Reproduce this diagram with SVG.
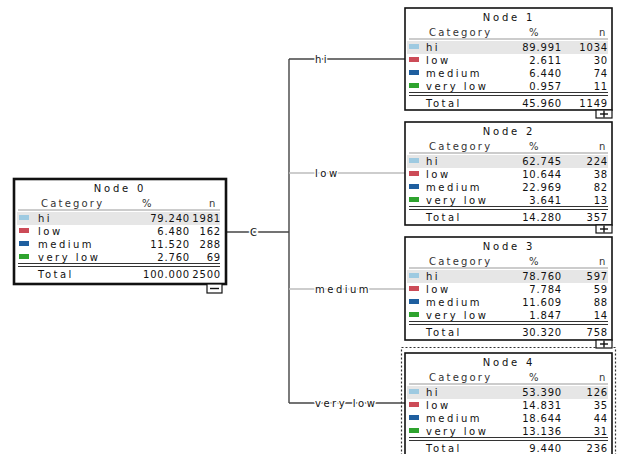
<svg xmlns="http://www.w3.org/2000/svg" width="618" height="454" viewBox="0 0 618 454">
  <style>
    text { font-family: "DejaVu Sans", "Liberation Sans", sans-serif; font-size: 10px; fill: #111; }
    .lbl { letter-spacing: 2.5px; }
    .num { letter-spacing: 0.8px; text-anchor: end; }
    .ttl { letter-spacing: 2.8px; text-anchor: middle; }
    .hdr { letter-spacing: 2.2px; fill: #333; }
    .box { fill: #fff; stroke: #111; stroke-width: 1.6; }
    .box0 { fill: #fff; stroke: #111; stroke-width: 2.6; }
    .band { fill: #e6e6e6; }
    .rule { stroke: #999; stroke-width: 1; }
    .drule { stroke: #333; stroke-width: 1; }
    .hi { fill: #9ecae1; }
    .low { fill: #cc4b57; }
    .med { fill: #1f5f9f; }
    .vlow { fill: #2ea32e; }
    .btn { fill: #fff; stroke: #111; stroke-width: 1.2; }
    .btnmark { stroke: #111; stroke-width: 1.4; }
    .edge { fill: none; stroke: #444; stroke-width: 1.4; }
    .edge-lt { fill: none; stroke: #bdbdbd; stroke-width: 1.4; }
    .elbl { letter-spacing: 2.5px; stroke: #fff; stroke-width: 3px; paint-order: stroke; }
    .sel { fill: none; stroke: #333; stroke-width: 1.2; stroke-dasharray: 2 2; }
  </style>

  <!-- tree connectors -->
  <g id="connectors">
    <line class="edge" x1="227" y1="232" x2="289" y2="232"/>
    <text class="elbl" x="250" y="236">C</text>
    <line class="edge" x1="289" y1="59" x2="289" y2="403"/>
    <line class="edge" x1="289" y1="59" x2="405" y2="59"/>
    <line class="edge-lt" x1="289" y1="173" x2="405" y2="173"/>
    <line class="edge-lt" x1="289" y1="289" x2="405" y2="289"/>
    <line class="edge" x1="289" y1="403" x2="405" y2="403"/>
    <text class="elbl" x="315" y="63">hi</text>
    <text class="elbl" x="315" y="177">low</text>
    <text class="elbl" x="315" y="293">medium</text>
    <text class="elbl" x="315" y="407">very low</text>
  </g>

  <!-- root node -->
  <g id="node0" transform="translate(14,179)">
    <rect class="box0" x="0" y="0" width="212" height="105"/>
    <text class="ttl" x="106" y="13">Node 0</text>
    <text class="hdr" x="27" y="28">Category</text>
    <text class="hdr" x="128" y="28">%</text>
    <text class="hdr" x="195" y="28">n</text>
    <line class="rule" x1="4" y1="31" x2="206" y2="31"/>
    <rect class="band" x="3" y="33" width="203" height="13"/>
    <rect class="hi" x="5" y="36" width="10" height="5"/>
    <rect class="low" x="5" y="49" width="10" height="5"/>
    <rect class="med" x="5" y="62" width="10" height="5"/>
    <rect class="vlow" x="5" y="75" width="10" height="5"/>
    <text class="lbl" x="24" y="43">hi</text>
    <text class="lbl" x="24" y="56">low</text>
    <text class="lbl" x="24" y="69">medium</text>
    <text class="lbl" x="24" y="82">very low</text>
    <text class="num" x="176" y="43">79.240</text>
    <text class="num" x="207" y="43">1981</text>
    <text class="num" x="176" y="56">6.480</text>
    <text class="num" x="207" y="56">162</text>
    <text class="num" x="176" y="69">11.520</text>
    <text class="num" x="207" y="69">288</text>
    <text class="num" x="176" y="82">2.760</text>
    <text class="num" x="207" y="82">69</text>
    <line class="drule" x1="4" y1="84.5" x2="206" y2="84.5"/>
    <line class="drule" x1="4" y1="87.5" x2="206" y2="87.5"/>
    <text class="lbl" x="24" y="99">Total</text>
    <text class="num" x="176" y="99">100.000</text>
    <text class="num" x="207" y="99">2500</text>
    <rect class="btn" x="193" y="105" width="15" height="9"/>
    <line class="btnmark" x1="196" y1="109.5" x2="205" y2="109.5"/>
  </g>

  <!-- child node: hi -->
  <g id="node1" transform="translate(405,8)">
    <rect class="box" x="0" y="0" width="207" height="102"/>
    <text class="ttl" x="104" y="13">Node 1</text>
    <text class="hdr" x="24" y="28">Category</text>
    <text class="hdr" x="124" y="28">%</text>
    <text class="hdr" x="194" y="28">n</text>
    <line class="rule" x1="4" y1="31" x2="203" y2="31"/>
    <rect class="band" x="2" y="33" width="201" height="13"/>
    <rect class="hi" x="4" y="36" width="10" height="5"/>
    <rect class="low" x="4" y="49" width="10" height="5"/>
    <rect class="med" x="4" y="62" width="10" height="5"/>
    <rect class="vlow" x="4" y="75" width="10" height="5"/>
    <text class="lbl" x="21" y="43">hi</text>
    <text class="lbl" x="21" y="56">low</text>
    <text class="lbl" x="21" y="69">medium</text>
    <text class="lbl" x="21" y="82">very low</text>
    <text class="num" x="157" y="43">89.991</text>
    <text class="num" x="203" y="43">1034</text>
    <text class="num" x="157" y="56">2.611</text>
    <text class="num" x="203" y="56">30</text>
    <text class="num" x="157" y="69">6.440</text>
    <text class="num" x="203" y="69">74</text>
    <text class="num" x="157" y="82">0.957</text>
    <text class="num" x="203" y="82">11</text>
    <line class="drule" x1="4" y1="84.5" x2="203" y2="84.5"/>
    <line class="drule" x1="4" y1="87.5" x2="203" y2="87.5"/>
    <text class="lbl" x="21" y="99">Total</text>
    <text class="num" x="157" y="99">45.960</text>
    <text class="num" x="203" y="99">1149</text>
    <rect class="btn" x="191" y="102" width="16" height="8"/>
    <line class="btnmark" x1="195" y1="106" x2="203" y2="106"/>
    <line class="btnmark" x1="199" y1="102.5" x2="199" y2="109.5"/>
  </g>

  <!-- child node: low -->
  <g id="node2" transform="translate(405,122)">
    <rect class="box" x="0" y="0" width="207" height="103"/>
    <text class="ttl" x="104" y="13">Node 2</text>
    <text class="hdr" x="24" y="28">Category</text>
    <text class="hdr" x="124" y="28">%</text>
    <text class="hdr" x="194" y="28">n</text>
    <line class="rule" x1="4" y1="31" x2="203" y2="31"/>
    <rect class="band" x="2" y="33" width="201" height="13"/>
    <rect class="hi" x="4" y="36" width="10" height="5"/>
    <rect class="low" x="4" y="49" width="10" height="5"/>
    <rect class="med" x="4" y="62" width="10" height="5"/>
    <rect class="vlow" x="4" y="75" width="10" height="5"/>
    <text class="lbl" x="21" y="43">hi</text>
    <text class="lbl" x="21" y="56">low</text>
    <text class="lbl" x="21" y="69">medium</text>
    <text class="lbl" x="21" y="82">very low</text>
    <text class="num" x="157" y="43">62.745</text>
    <text class="num" x="203" y="43">224</text>
    <text class="num" x="157" y="56">10.644</text>
    <text class="num" x="203" y="56">38</text>
    <text class="num" x="157" y="69">22.969</text>
    <text class="num" x="203" y="69">82</text>
    <text class="num" x="157" y="82">3.641</text>
    <text class="num" x="203" y="82">13</text>
    <line class="drule" x1="4" y1="84.5" x2="203" y2="84.5"/>
    <line class="drule" x1="4" y1="87.5" x2="203" y2="87.5"/>
    <text class="lbl" x="21" y="99">Total</text>
    <text class="num" x="157" y="99">14.280</text>
    <text class="num" x="203" y="99">357</text>
    <rect class="btn" x="191" y="103" width="16" height="8"/>
    <line class="btnmark" x1="195" y1="107" x2="203" y2="107"/>
    <line class="btnmark" x1="199" y1="103.5" x2="199" y2="110.5"/>
  </g>

  <!-- child node: medium -->
  <g id="node3" transform="translate(405,237)">
    <rect class="box" x="0" y="0" width="207" height="103"/>
    <text class="ttl" x="104" y="13">Node 3</text>
    <text class="hdr" x="24" y="28">Category</text>
    <text class="hdr" x="124" y="28">%</text>
    <text class="hdr" x="194" y="28">n</text>
    <line class="rule" x1="4" y1="31" x2="203" y2="31"/>
    <rect class="band" x="2" y="33" width="201" height="13"/>
    <rect class="hi" x="4" y="36" width="10" height="5"/>
    <rect class="low" x="4" y="49" width="10" height="5"/>
    <rect class="med" x="4" y="62" width="10" height="5"/>
    <rect class="vlow" x="4" y="75" width="10" height="5"/>
    <text class="lbl" x="21" y="43">hi</text>
    <text class="lbl" x="21" y="56">low</text>
    <text class="lbl" x="21" y="69">medium</text>
    <text class="lbl" x="21" y="82">very low</text>
    <text class="num" x="157" y="43">78.760</text>
    <text class="num" x="203" y="43">597</text>
    <text class="num" x="157" y="56">7.784</text>
    <text class="num" x="203" y="56">59</text>
    <text class="num" x="157" y="69">11.609</text>
    <text class="num" x="203" y="69">88</text>
    <text class="num" x="157" y="82">1.847</text>
    <text class="num" x="203" y="82">14</text>
    <line class="drule" x1="4" y1="84.5" x2="203" y2="84.5"/>
    <line class="drule" x1="4" y1="87.5" x2="203" y2="87.5"/>
    <text class="lbl" x="21" y="99">Total</text>
    <text class="num" x="157" y="99">30.320</text>
    <text class="num" x="203" y="99">758</text>
  </g>

  <!-- child node: very low (selected) -->
  <g id="node4" transform="translate(405,353)">
    <rect class="sel" x="-3.5" y="-5.5" width="214" height="120"/>
    <rect class="box" x="0" y="0" width="207" height="103"/>
    <text class="ttl" x="104" y="13">Node 4</text>
    <text class="hdr" x="24" y="28">Category</text>
    <text class="hdr" x="124" y="28">%</text>
    <text class="hdr" x="194" y="28">n</text>
    <line class="rule" x1="4" y1="31" x2="203" y2="31"/>
    <rect class="band" x="2" y="33" width="201" height="13"/>
    <rect class="hi" x="4" y="36" width="10" height="5"/>
    <rect class="low" x="4" y="49" width="10" height="5"/>
    <rect class="med" x="4" y="62" width="10" height="5"/>
    <rect class="vlow" x="4" y="75" width="10" height="5"/>
    <text class="lbl" x="21" y="43">hi</text>
    <text class="lbl" x="21" y="56">low</text>
    <text class="lbl" x="21" y="69">medium</text>
    <text class="lbl" x="21" y="82">very low</text>
    <text class="num" x="157" y="43">53.390</text>
    <text class="num" x="203" y="43">126</text>
    <text class="num" x="157" y="56">14.831</text>
    <text class="num" x="203" y="56">35</text>
    <text class="num" x="157" y="69">18.644</text>
    <text class="num" x="203" y="69">44</text>
    <text class="num" x="157" y="82">13.136</text>
    <text class="num" x="203" y="82">31</text>
    <line class="drule" x1="4" y1="84.5" x2="203" y2="84.5"/>
    <line class="drule" x1="4" y1="87.5" x2="203" y2="87.5"/>
    <text class="lbl" x="21" y="99">Total</text>
    <text class="num" x="157" y="99">9.440</text>
    <text class="num" x="203" y="99">236</text>
  </g>

  <!-- expand button of node 3 drawn over the selection frame -->
  <g id="node3-toggle">
    <rect class="btn" x="596" y="340" width="16" height="8"/>
    <line class="btnmark" x1="600" y1="344" x2="608" y2="344"/>
    <line class="btnmark" x1="604" y1="340.5" x2="604" y2="347.5"/>
  </g>
</svg>
